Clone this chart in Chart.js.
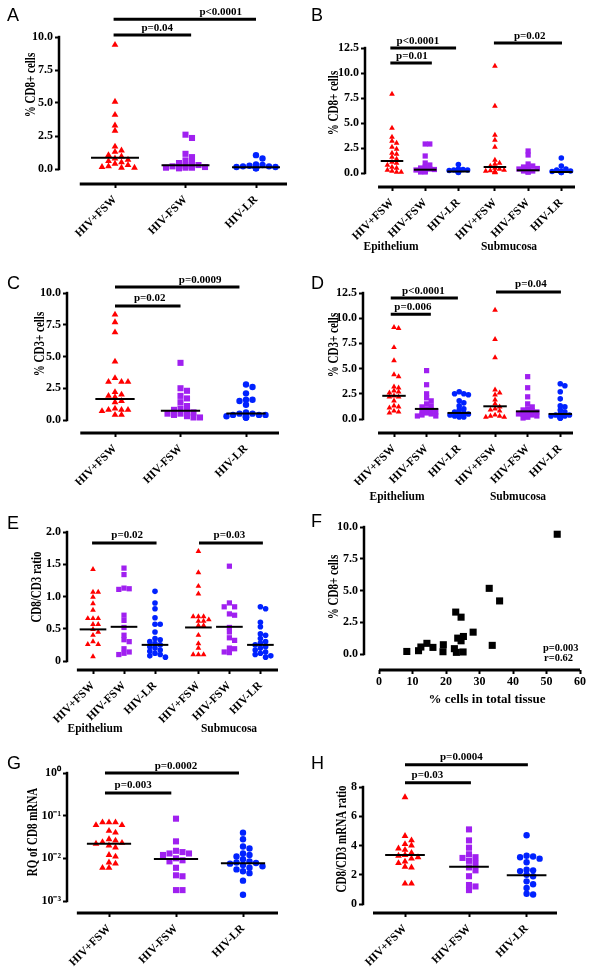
<!DOCTYPE html>
<html>
<head>
<meta charset="utf-8">
<script src="https://cdn.jsdelivr.net/npm/chart.js@4.4.0/dist/chart.umd.min.js"></script>
<style>
  body { margin: 0; background: #fff; }
  #fig { position: relative; width: 591px; height: 968px; overflow: hidden; background: #fff; }
  canvas { position: absolute; }
  .letter { position: absolute; font: 18px "Liberation Sans", Arial, sans-serif; line-height: 1; color: #000; }
  .site { position: absolute; font: bold 11.5px "Liberation Serif", "Times New Roman", serif; line-height: 1;
          color: #000; white-space: nowrap; transform: translateX(-50%); }
</style>
</head>
<body>
<div id="fig">
  <canvas id="cA"></canvas><canvas id="cB"></canvas>
  <canvas id="cC"></canvas><canvas id="cD"></canvas>
  <canvas id="cE"></canvas><canvas id="cF"></canvas>
  <canvas id="cG"></canvas><canvas id="cH"></canvas>

  <div class="letter" style="left:7px;top:6px">A</div>
  <div class="letter" style="left:311px;top:6px">B</div>
  <div class="letter" style="left:7px;top:274px">C</div>
  <div class="letter" style="left:311px;top:274px">D</div>
  <div class="letter" style="left:7px;top:514px">E</div>
  <div class="letter" style="left:311px;top:512px">F</div>
  <div class="letter" style="left:7px;top:754px">G</div>
  <div class="letter" style="left:311px;top:754px">H</div>

  <div class="site" style="left:391px;top:241px">Epithelium</div>
  <div class="site" style="left:509px;top:241px">Submucosa</div>
  <div class="site" style="left:397px;top:491px">Epithelium</div>
  <div class="site" style="left:518px;top:491px">Submucosa</div>
  <div class="site" style="left:95px;top:723px">Epithelium</div>
  <div class="site" style="left:229px;top:723px">Submucosa</div>
</div>

<script>
// ---------- data ----------
const groups = ['HIV+FSW', 'HIV-FSW', 'HIV-LR'];
const groups2 = groups.concat(groups);   // epithelium + submucosa

// A: % CD8+ cells
const aFswPos = [9.4, 5.1, 4.1, 3.3, 2.9, 1.7, 1.4, 1.3, 1.05, 0.95, 0.8, 0.7, 0.6, 0.5, 0.4, 0.3, 0.2, 0.15, 0.1, 0.1];
const aFswNeg = [2.6, 2.35, 1.15, 0.9, 0.65, 0.5, 0.45, 0.3, 0.25, 0.2, 0.15, 0.1, 0.1, 0.1, 0.05];
const aLr     = [1.05, 0.8, 0.35, 0.3, 0.25, 0.2, 0.2, 0.15, 0.15, 0.1, 0.1, 0.1, 0.1, 0.05, 0.05];
const aMedian = [0.86, 0.28, 0.13];

// B: % CD8+ cells, epithelium / submucosa
const bEpiPos = [7.9, 4.5, 3.6, 3.2, 3.0, 2.6, 2.4, 2.0, 1.9, 1.6, 1.4, 1.1, 1.0, 0.8, 0.6, 0.5, 0.3, 0.2, 0.1, 0.1];
const bEpiNeg = [2.9, 2.9, 1.7, 1.0, 0.8, 0.6, 0.5, 0.4, 0.35, 0.3, 0.3, 0.2, 0.2, 0.1, 0.1];
const bEpiLr  = [0.85, 0.4, 0.35, 0.3, 0.3, 0.25, 0.2, 0.2, 0.15, 0.15, 0.1, 0.1, 0.1, 0.05];
const bSubPos = [10.7, 6.7, 3.8, 3.3, 2.6, 1.3, 1.0, 0.9, 0.7, 0.5, 0.4, 0.3, 0.25, 0.2, 0.15, 0.1, 0.1, 0.05];
const bSubNeg = [2.2, 1.8, 0.9, 0.7, 0.6, 0.5, 0.45, 0.4, 0.3, 0.3, 0.2, 0.2, 0.1, 0.1];
const bSubLr  = [1.5, 0.7, 0.4, 0.3, 0.2, 0.2, 0.15, 0.1, 0.1, 0.1, 0.05, 0.05];
const bMedian = [1.2, 0.33, 0.15, 0.6, 0.27, 0.1];

// C: % CD3+ cells
const cFswPos = [8.3, 7.7, 6.9, 4.6, 3.3, 3.0, 3.0, 3.0, 2.2, 2.0, 1.9, 1.8, 1.5, 1.4, 0.9, 0.8, 0.8, 0.8, 0.7, 0.4, 0.4];
const cFswNeg = [4.5, 2.5, 2.3, 1.9, 1.7, 1.4, 1.1, 0.9, 0.8, 0.7, 0.6, 0.5, 0.5, 0.4, 0.3, 0.2, 0.2];
const cLr     = [2.8, 2.6, 2.1, 1.6, 1.6, 1.5, 1.2, 0.6, 0.5, 0.5, 0.4, 0.4, 0.4, 0.3, 0.3, 0.3, 0.2, 0.2, 0.2];
const cMedian = [1.65, 0.73, 0.52];

// D: % CD3+ cells, epithelium / submucosa
const dEpiPos = [9.1, 9.0, 7.1, 5.8, 4.4, 4.2, 3.2, 3.1, 2.8, 2.7, 2.6, 2.3, 2.2, 2.2, 1.8, 1.3, 1.2, 1.1, 0.8, 0.7, 0.6];
const dEpiNeg = [4.8, 3.4, 2.5, 2.1, 1.8, 1.5, 1.3, 1.2, 1.0, 0.9, 0.8, 0.7, 0.6, 0.5, 0.4, 0.3, 0.3];
const dEpiLr  = [2.7, 2.5, 2.5, 2.4, 1.8, 1.6, 1.3, 1.0, 0.9, 0.7, 0.6, 0.5, 0.5, 0.4, 0.4, 0.3, 0.3, 0.2, 0.2];
const dSubPos = [10.8, 7.9, 6.1, 2.9, 2.6, 2.4, 1.9, 1.5, 1.2, 1.0, 0.9, 0.8, 0.4, 0.3, 0.3, 0.2, 0.2];
const dSubNeg = [4.2, 3.1, 2.2, 1.5, 1.2, 1.0, 0.9, 0.8, 0.7, 0.6, 0.5, 0.5, 0.4, 0.3, 0.2, 0.2, 0.1];
const dSubLr  = [3.5, 3.3, 2.7, 2.0, 1.3, 1.2, 0.9, 0.7, 0.5, 0.4, 0.4, 0.3, 0.3, 0.2, 0.2, 0.1, 0.1, 0.1];
const dMedian = [2.3, 1.0, 0.6, 1.26, 0.76, 0.5];

// E: CD8/CD3 ratio, epithelium / submucosa
const eEpiPos = [1.42, 1.07, 1.07, 0.99, 0.89, 0.79, 0.66, 0.66, 0.66, 0.57, 0.57, 0.49, 0.45, 0.40, 0.30, 0.26, 0.26, 0.07];
const eEpiNeg = [1.44, 1.34, 1.13, 1.12, 1.11, 0.71, 0.63, 0.52, 0.40, 0.33, 0.30, 0.19, 0.14, 0.12, 0.10];
const eEpiLr  = [1.08, 0.90, 0.81, 0.67, 0.57, 0.57, 0.45, 0.35, 0.33, 0.30, 0.27, 0.25, 0.22, 0.20, 0.17, 0.15, 0.12, 0.10, 0.08, 0.06];
const eSubPos = [1.70, 1.37, 1.16, 1.04, 0.69, 0.69, 0.69, 0.64, 0.62, 0.62, 0.55, 0.55, 0.40, 0.27, 0.20, 0.10, 0.10, 0.10];
const eSubNeg = [1.47, 0.90, 0.84, 0.84, 0.73, 0.71, 0.52, 0.45, 0.36, 0.32, 0.20, 0.19, 0.14, 0.13];
const eSubLr  = [0.84, 0.81, 0.60, 0.53, 0.42, 0.40, 0.35, 0.30, 0.28, 0.25, 0.22, 0.20, 0.17, 0.14, 0.12, 0.10, 0.08, 0.06];
const eMedian = [0.49, 0.53, 0.25, 0.52, 0.53, 0.25];

// F: % CD8+ cells vs % cells in total tissue
const fCells = [8.3, 11.8, 12.5, 14.3, 16.1, 19.2, 19.1, 22.5, 23.1, 22.9, 24.5, 23.5, 24.5, 25.2, 25.1, 28.1, 32.9, 33.8, 36.0, 53.2];
const fCd8   = [0.2, 0.26, 0.55, 0.84, 0.52, 0.73, 0.18, 0.42, 0.13, 3.3, 2.9, 1.25, 1.04, 1.38, 0.16, 1.72, 5.17, 0.68, 4.18, 9.43];

// G: RQ of CD8 mRNA (log)
const gFswPos = [0.07, 0.07, 0.07, 0.06, 0.06, 0.044, 0.04, 0.028, 0.026, 0.024, 0.023, 0.022, 0.02, 0.018, 0.012, 0.011, 0.008, 0.0075, 0.006, 0.006];
const gFswNeg = [0.085, 0.025, 0.015, 0.014, 0.013, 0.013, 0.012, 0.01, 0.009, 0.0085, 0.006, 0.004, 0.0038, 0.0018, 0.0018];
const gLr     = [0.04, 0.028, 0.019, 0.017, 0.013, 0.012, 0.011, 0.0095, 0.0085, 0.008, 0.0078, 0.0075, 0.007, 0.0065, 0.006, 0.0055, 0.005, 0.0045, 0.003, 0.0014];
const gMedian = [0.022, 0.0097, 0.0077];

// H: CD8/CD3 mRNA ratio
const hFswPos = [7.3, 4.65, 4.35, 4.1, 4.0, 3.8, 3.7, 3.5, 3.35, 3.3, 3.2, 3.1, 2.9, 2.8, 2.55, 2.5, 1.4, 1.4];
const hFswNeg = [5.1, 4.35, 3.85, 3.4, 3.2, 3.15, 2.95, 2.8, 2.5, 2.3, 1.9, 1.3, 1.2, 0.95];
const hLr     = [4.7, 3.3, 3.25, 3.2, 3.1, 2.85, 2.35, 2.3, 2.25, 2.0, 1.9, 1.55, 1.35, 1.1, 0.7, 0.65];
const hMedian = [3.35, 2.55, 1.97];

// tick values and labels
const ticks10   = [0, 2.5, 5, 7.5, 10];
const labels10  = ['0.0', '2.5', '5.0', '7.5', '10.0'];
const ticks125  = [0, 2.5, 5, 7.5, 10, 12.5];
const labels125 = ['0.0', '2.5', '5.0', '7.5', '10.0', '12.5'];
const ticksE    = [0, 0.5, 1, 1.5, 2];
const labelsE   = ['0', '0.5', '1.0', '1.5', '2.0'];
const ticksG    = [0.001, 0.01, 0.1, 1];
const labelsG   = ['10\u207B\u00B3', '10\u207B\u00B2', '10\u207B\u00B9', '10\u2070'];
const ticksH    = [0, 2, 4, 6, 8];
const labelsH   = ['0', '2', '4', '6', '8'];
const ticksFx   = [0, 10, 20, 30, 40, 50, 60];
const labelsFx  = ['0', '10', '20', '30', '40', '50', '60'];

// ---------- styling ----------
const SERIF = '"Liberation Serif", "Times New Roman", serif';
const markers = [
  { color: '#ff0000', shape: 'triangle' },
  { color: '#a020f0', shape: 'rect' },
  { color: '#0022ff', shape: 'circle' }
];
const bigR   = { triangle: 3.9, rect: 4.3, circle: 3.2 };
const smallR = { triangle: 3.3, rect: 3.7, circle: 2.8 };

// spread points sideways like a column scatter (offsets in px, kept inside maxOff)
function swarm(values, toPx, gapX, gapY, maxOff) {
  const placed = [];
  const n = Math.max(1, Math.floor(maxOff / gapX));
  return values.map(v => {
    const py = toPx(v);
    const near = placed.filter(p => Math.abs(p.y - py) < gapY);
    let best = 0, bestD = -1;
    for (let k = 0; k <= 2 * n; k++) {
      const ox = (k % 2 ? 1 : -1) * Math.ceil(k / 2) * gapX;
      const d = near.length ? Math.min(...near.map(p => Math.abs(p.x - ox))) : Infinity;
      if (d >= gapX * 0.99) { best = ox; break; }
      if (d > bestD) { bestD = d; best = ox; }
    }
    placed.push({ x: best, y: py });
    return best;
  });
}

// axis lines, brackets, titles
function prismPlugin(p) {
  return {
    id: 'prism' + p.id,
    afterDraw(chart) {
      const ctx = chart.ctx, xs = chart.scales.x, ys = chart.scales.y, ca = chart.chartArea;
      const bx = p.box[0], by = p.box[1];
      ctx.save();
      ctx.strokeStyle = '#000';
      ctx.fillStyle = '#000';
      // y axis (from lowest to highest tick)
      ctx.lineWidth = 2.5;
      ctx.beginPath();
      ctx.moveTo(ca.left, ys.getPixelForValue(p.yTicks[0]) + 1.2);
      ctx.lineTo(ca.left, ys.getPixelForValue(p.yTicks[p.yTicks.length - 1]) - 1.2);
      ctx.stroke();
      // x axis
      ctx.lineWidth = 3;
      ctx.beginPath();
      ctx.moveTo(xs.getPixelForValue(p.xFrom), ca.bottom);
      ctx.lineTo(ca.right, ca.bottom);
      ctx.stroke();
      // significance brackets
      ctx.font = 'bold 11px ' + SERIF;
      ctx.textAlign = 'center';
      ctx.textBaseline = 'alphabetic';
      (p.brackets || []).forEach(b => {
        const y = ys.getPixelForValue(b.y);
        ctx.lineWidth = 3;
        ctx.beginPath();
        ctx.moveTo(xs.getPixelForValue(b.from), y);
        ctx.lineTo(xs.getPixelForValue(b.to), y);
        ctx.stroke();
        ctx.fillText(b.text, xs.getPixelForValue(b.tx), y - 4.5);
      });
      // y title (figure is slightly stretched sideways)
      ctx.save();
      ctx.translate(p.yTitle.x - bx, p.yTitle.y - by);
      ctx.scale(1.3, 1);
      ctx.rotate(-Math.PI / 2);
      ctx.font = 'bold 11px ' + SERIF;
      ctx.textBaseline = 'middle';
      ctx.fillText(p.yTitle.text, 0, 0);
      ctx.restore();
      // extra text (panel F)
      (p.notes || []).forEach(n => {
        ctx.font = n.font;
        ctx.textAlign = n.align;
        ctx.fillText(n.text, n.x - bx, n.y - by);
      });
      ctx.restore();
    }
  };
}

function buildPanel(p) {
  const [bx, by, bw, bh] = p.box;
  const canvas = document.getElementById(p.id);
  canvas.width = bw;
  canvas.height = bh;
  canvas.style.left = bx + 'px';
  canvas.style.top = by + 'px';

  // y range from the pixel layout of the ticks
  const f = p.log ? Math.log10 : v => v;
  const tMin = p.yTicks[0], tMax = p.yTicks[p.yTicks.length - 1];
  const unitPx = (p.y0 - p.top) / (f(tMax) - f(tMin));
  const lo = f(tMin) - (p.bottom - p.y0) / unitPx;
  const yMin = p.log ? Math.pow(10, lo) : lo;
  const toPx = v => (f(v) - lo) * unitPx;
  const xMin = (p.left - p.x0) / p.step;
  const xMax = (p.right - p.x0) / p.step;

  const datasets = [];
  if (p.xy) {
    datasets.push({
      data: p.xy.x.map((v, i) => ({ x: v, y: p.xy.y[i] })),
      pointStyle: 'rect', pointRadius: 5, pointBackgroundColor: '#000', pointBorderWidth: 0,
      showLine: false, clip: false, order: 2
    });
  } else {
    p.series.forEach((vals, i) => {
      const m = markers[i % 3];
      const offs = swarm(vals, toPx, p.gap, p.gapY, p.spread);
      datasets.push({
        data: vals.map((v, k) => ({ x: p.pos[i] + offs[k] / p.step, y: v })),
        pointStyle: m.shape, pointRadius: p.radius[m.shape],
        pointBackgroundColor: m.color, pointBorderColor: m.color, pointBorderWidth: 0,
        showLine: false, clip: false, order: 2
      });
      datasets.push({
        type: 'line',
        data: [{ x: p.pos[i] - p.half, y: p.medians[i] }, { x: p.pos[i] + p.half, y: p.medians[i] }],
        borderColor: '#000', borderWidth: 2, pointRadius: 0, clip: false, order: 1
      });
    });
  }

  const xTickVals = p.xTicks || p.pos;
  const xTickLabels = p.xLabels;

  new Chart(canvas, {
    type: 'scatter',
    data: { datasets },
    options: {
      responsive: false,
      animation: false,
      events: [],
      layout: { padding: { top: p.top - by, right: bx + bw - p.right, left: 0, bottom: 0 } },
      plugins: { legend: { display: false }, tooltip: { enabled: false } },
      scales: {
        x: {
          type: 'linear',
          min: xMin, max: xMax,
          border: { display: false },
          grid: { display: true, drawOnChartArea: false, drawTicks: true, tickLength: 4, tickWidth: 2, tickColor: '#000' },
          afterBuildTicks: s => { s.ticks = xTickVals.map(v => ({ value: v })); },
          afterFit: s => { s.height = by + bh - p.bottom; },
          ticks: {
            autoSkip: false,
            minRotation: p.rot, maxRotation: p.rot,
            padding: p.rot ? 5 : 1,
            color: '#000',
            font: { family: SERIF, weight: 'bold', size: p.rot ? 11.5 : 12 },
            callback: (v, i) => xTickLabels[i]
          }
        },
        y: {
          type: p.log ? 'logarithmic' : 'linear',
          min: yMin, max: tMax,
          border: { display: false },
          grid: { display: true, drawOnChartArea: false, drawTicks: true, tickLength: 4, tickWidth: 2, tickColor: '#000' },
          afterBuildTicks: s => { s.ticks = p.yTicks.map(v => ({ value: v })); },
          afterFit: s => { s.width = p.left - bx; },
          ticks: {
            padding: 2,
            color: '#000',
            font: { family: SERIF, weight: 'bold', size: 12 },
            callback: (v, i) => p.yLabels[i]
          }
        }
      }
    },
    plugins: [prismPlugin(p)]
  });
}

// ---------- panels ----------
const panels = [
  { id: 'cA', box: [0, 0, 295, 240], left: 59, right: 287, top: 37, bottom: 184, y0: 169,
    yTicks: ticks10, yLabels: labels10, x0: 115, step: 70.5, pos: [0, 1, 2], xLabels: groups, rot: 45,
    series: [aFswPos, aFswNeg, aLr], medians: aMedian, half: 0.34, gap: 6.5, gapY: 5, spread: 21, radius: bigR,
    xFrom: -0.5,
    brackets: [
      { from: -0.02, to: 1.08, y: 10.15, text: 'p=0.04', tx: 0.6 },
      { from: -0.02, to: 2.0, y: 11.35, text: 'p<0.0001', tx: 1.5 }
    ],
    yTitle: { text: '% CD8+ cells', x: 31, y: 85 } },

  { id: 'cB', box: [295, 0, 296, 240], left: 365, right: 575, top: 48, bottom: 187, y0: 173,
    yTicks: ticks125, yLabels: labels125, x0: 392, step: 33.2, pos: [0, 1, 2, 3.1, 4.1, 5.1], xLabels: groups2, rot: 45,
    series: [bEpiPos, bEpiNeg, bEpiLr, bSubPos, bSubNeg, bSubLr], medians: bMedian, half: 0.34,
    gap: 4.6, gapY: 4, spread: 12, radius: smallR, xFrom: -0.42,
    brackets: [
      { from: -0.05, to: 1.2, y: 11.0, text: 'p=0.01', tx: 0.6 },
      { from: -0.05, to: 1.93, y: 12.5, text: 'p<0.0001', tx: 0.78 },
      { from: 3.07, to: 5.12, y: 13.0, text: 'p=0.02', tx: 4.15 }
    ],
    yTitle: { text: '% CD8+ cells', x: 334, y: 103 } },

  { id: 'cC', box: [0, 240, 295, 245], left: 67, right: 279, top: 293, bottom: 433, y0: 420,
    yTicks: ticks10, yLabels: labels10, x0: 115, step: 65.5, pos: [0, 1, 2], xLabels: groups, rot: 45,
    series: [cFswPos, cFswNeg, cLr], medians: cMedian, half: 0.3, gap: 6.5, gapY: 5, spread: 20, radius: bigR,
    xFrom: -0.53,
    brackets: [
      { from: 0, to: 1, y: 8.98, text: 'p=0.02', tx: 0.53 },
      { from: 0, to: 1.9, y: 10.47, text: 'p=0.0009', tx: 1.3 }
    ],
    yTitle: { text: '% CD3+ cells', x: 40, y: 344 } },

  { id: 'cD', box: [295, 240, 296, 245], left: 363, right: 573, top: 293, bottom: 433, y0: 419,
    yTicks: ticks125, yLabels: labels125, x0: 394, step: 32.6, pos: [0, 1, 2, 3.1, 4.1, 5.1], xLabels: groups2, rot: 45,
    series: [dEpiPos, dEpiNeg, dEpiLr, dSubPos, dSubNeg, dSubLr], medians: dMedian, half: 0.36,
    gap: 4.6, gapY: 4, spread: 12, radius: smallR, xFrom: -0.49,
    brackets: [
      { from: -0.1, to: 1.13, y: 10.4, text: 'p=0.006', tx: 0.58 },
      { from: -0.1, to: 1.96, y: 12.0, text: 'p<0.0001', tx: 0.9 },
      { from: 3.13, to: 5.12, y: 12.6, text: 'p=0.04', tx: 4.2 }
    ],
    yTitle: { text: '% CD3+ cells', x: 334, y: 345 } },

  { id: 'cE', box: [0, 485, 295, 245], left: 67, right: 278, top: 532, bottom: 670, y0: 661,
    yTicks: ticksE, yLabels: labelsE, x0: 93, step: 31, pos: [0, 1, 2, 3.4, 4.4, 5.4], xLabels: groups2, rot: 45,
    series: [eEpiPos, eEpiNeg, eEpiLr, eSubPos, eSubNeg, eSubLr], medians: eMedian, half: 0.43,
    gap: 5.2, gapY: 4.5, spread: 13, radius: smallR, xFrom: -0.52,
    brackets: [
      { from: -0.03, to: 2.05, y: 1.83, text: 'p=0.02', tx: 1.1 },
      { from: 3.42, to: 5.48, y: 1.83, text: 'p=0.03', tx: 4.4 }
    ],
    yTitle: { text: 'CD8/CD3 ratio', x: 37, y: 587 } },

  { id: 'cF', box: [295, 485, 296, 245], left: 364, right: 580, top: 527, bottom: 670, y0: 654,
    yTicks: ticks10, yLabels: labels10, x0: 379, step: 201 / 60, xTicks: ticksFx, xLabels: labelsFx, rot: 0,
    xy: { x: fCells, y: fCd8 }, xFrom: 0,
    yTitle: { text: '% CD8+ cells', x: 334, y: 587 },
    notes: [
      { text: '% cells in total tissue', x: 487, y: 703, font: 'bold 13px ' + SERIF, align: 'center' },
      { text: 'p=0.003', x: 543, y: 651, font: 'bold 10.5px ' + SERIF, align: 'left' },
      { text: 'r=0.62', x: 544, y: 661, font: 'bold 10.5px ' + SERIF, align: 'left' }
    ] },

  { id: 'cG', box: [0, 730, 295, 238], left: 67, right: 278, top: 773, bottom: 913, y0: 901, log: true,
    yTicks: ticksG, yLabels: labelsG, x0: 109, step: 67, pos: [0, 1, 2], xLabels: groups, rot: 45,
    series: [gFswPos, gFswNeg, gLr], medians: gMedian, half: 0.33, gap: 6.5, gapY: 5, spread: 21, radius: bigR,
    xFrom: -0.48,
    brackets: [
      { from: -0.06, to: 0.93, y: 0.34, text: 'p=0.003', tx: 0.36 },
      { from: -0.06, to: 1.94, y: 1, text: 'p=0.0002', tx: 1.0 }
    ],
    yTitle: { text: 'RQ of CD8 mRNA', x: 33, y: 832 } },

  { id: 'cH', box: [295, 730, 296, 238], left: 363, right: 557, top: 787, bottom: 913, y0: 904,
    yTicks: ticksH, yLabels: labelsH, x0: 405, step: 64, pos: [0, 1, 1.9], xLabels: groups, rot: 45,
    series: [hFswPos, hFswNeg, hLr], medians: hMedian, half: 0.31, gap: 6.5, gapY: 5, spread: 20, radius: bigR,
    xFrom: -0.5,
    brackets: [
      { from: 0, to: 1.03, y: 8.29, text: 'p=0.03', tx: 0.35 },
      { from: 0, to: 1.92, y: 9.52, text: 'p=0.0004', tx: 0.88 }
    ],
    yTitle: { text: 'CD8/CD3 mRNA ratio', x: 342, y: 839 } }
];

panels.forEach(buildPanel);
</script>
</body>
</html>
